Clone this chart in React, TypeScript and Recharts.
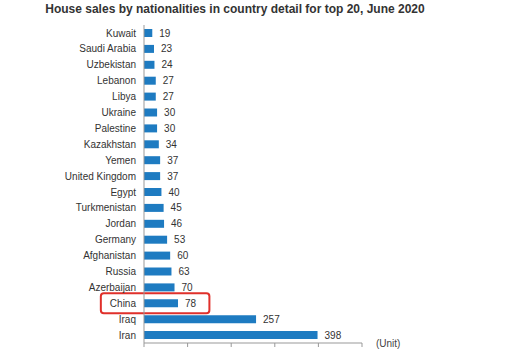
import React from "react";
import { BarChart, Bar, XAxis, YAxis, LabelList, ReferenceArea } from "recharts";

const countries = [
  "Kuwait", "Saudi Arabia", "Uzbekistan", "Lebanon", "Libya", "Ukraine", "Palestine",
  "Kazakhstan", "Yemen", "United Kingdom", "Egypt", "Turkmenistan", "Jordan", "Germany",
  "Afghanistan", "Russia", "Azerbaijan", "China", "Iraq", "Iran",
];
const sales = [19, 23, 24, 27, 27, 30, 30, 34, 37, 37, 40, 45, 46, 53, 60, 63, 70, 78, 257, 398];
const xTicks = [0, 100, 200, 300, 400, 500];
const highlighted = "China";
const title = "House sales by nationalities in country detail for top 20, June 2020";
const unitLabel = "(Unit)";

const data = countries.map((c, i) => ({ country: c, value: sales[i] }));

const FONT = "'Liberation Sans', Arial, sans-serif";

const HighlightBox = (props: any) => {
  const { x, y, width, height } = props;
  return (
    <rect
      x={x}
      y={y - 2}
      width={width}
      height={height + 4}
      rx={3}
      ry={3}
      fill="none"
      stroke="#E0302B"
      strokeWidth={2}
    />
  );
};

export default function App() {
  return (
    <div style={{ position: "absolute", left: 0, top: 0, width: 508, height: 357, background: "#fff", fontFamily: FONT }}>
      <div
        style={{
          position: "absolute",
          left: 0,
          top: 2,
          width: 470,
          textAlign: "center",
          fontWeight: "bold",
          fontSize: 12,
          color: "#333",
          whiteSpace: "nowrap",
        }}
      >
        {title}
      </div>
      <div style={{ position: "absolute", left: 0, top: 0 }}>
        <BarChart
          width={508}
          height={357}
          data={data}
          layout="vertical"
          margin={{ top: 25, right: 146, bottom: 4, left: 0 }}
          barCategoryGap={0}
        >
          <XAxis
            type="number"
            domain={[0, 500]}
            ticks={xTicks}
            axisLine={{ stroke: "#999" }}
            tickLine={{ stroke: "#999" }}
            tickSize={4}
            height={10}
            tick={() => <g />}
          />
          <YAxis
            type="category"
            dataKey="country"
            width={144}
            axisLine={{ stroke: "#999" }}
            tickLine={false}
            interval={0}
            tick={{ fontSize: 10, fill: "#333", fontFamily: FONT }}
          />
          <ReferenceArea
            y1={highlighted}
            y2={highlighted}
            x1={-99}
            x2={150}
            ifOverflow="visible"
            shape={<HighlightBox />}
          />
          <Bar dataKey="value" fill="#1E7BC1" barSize={8} isAnimationActive={false}>
            <LabelList
              dataKey="value"
              position="right"
              offset={7}
              style={{ fontSize: 10, fill: "#333", fontFamily: FONT }}
            />
          </Bar>
        </BarChart>
      </div>
      <div style={{ position: "absolute", left: 376, top: 338, fontSize: 10, color: "#444" }}>{unitLabel}</div>
    </div>
  );
}
